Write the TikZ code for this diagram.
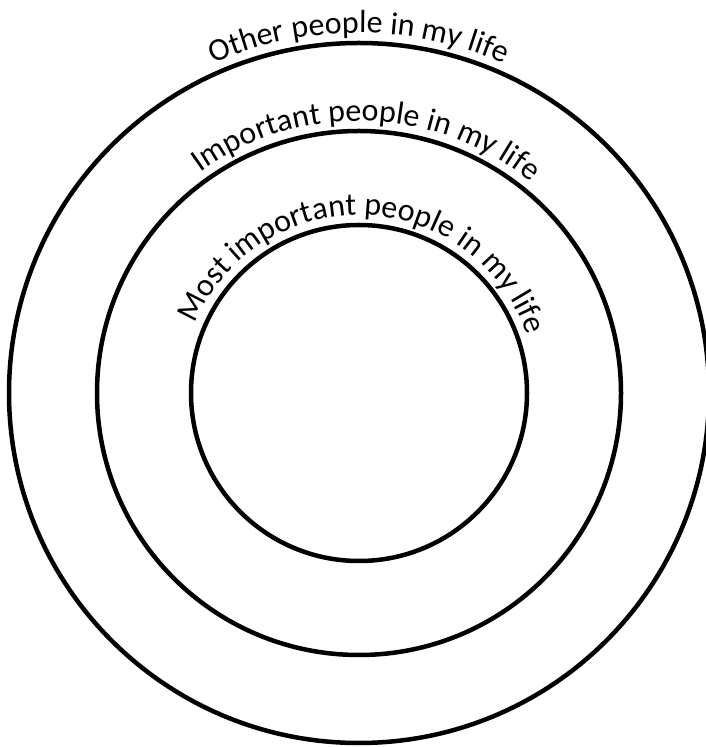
\documentclass[tikz,border=0pt]{standalone}
\usepackage{fontspec}
\setmainfont{Carlito}
\usetikzlibrary{decorations.text}
\begin{document}
\begin{tikzpicture}[x=1pt,y=1pt,
  ring/.style={line width=4.5pt, draw=black}]
\useasboundingbox (0,0) rectangle (706,747);
\coordinate (c) at (359,354);
\draw[ring] (c) circle[radius=350pt];
\draw[ring] (c) circle[radius=262pt];
\draw[ring] (c) circle[radius=168pt];
\path[decorate, decoration={text along path, text align=center,
  text={|\fontsize{32}{38}\selectfont|Other people in my life}}]
  ([shift={(180:360pt)}]c) arc[start angle=180, end angle=0, radius=360pt];
\path[decorate, decoration={text along path, text align=center,
  text={|\fontsize{32}{38}\selectfont|Important people in my life}}]
  ([shift={(178.3:272pt)}]c) arc[start angle=178.3, end angle=-1.7, radius=272pt];
\path[decorate, decoration={text along path, text align=center,
  text={|\fontsize{32}{38}\selectfont|Most important people in my life}}]
  ([shift={(178:178pt)}]c) arc[start angle=178, end angle=-2, radius=178pt];
\end{tikzpicture}
\end{document}
